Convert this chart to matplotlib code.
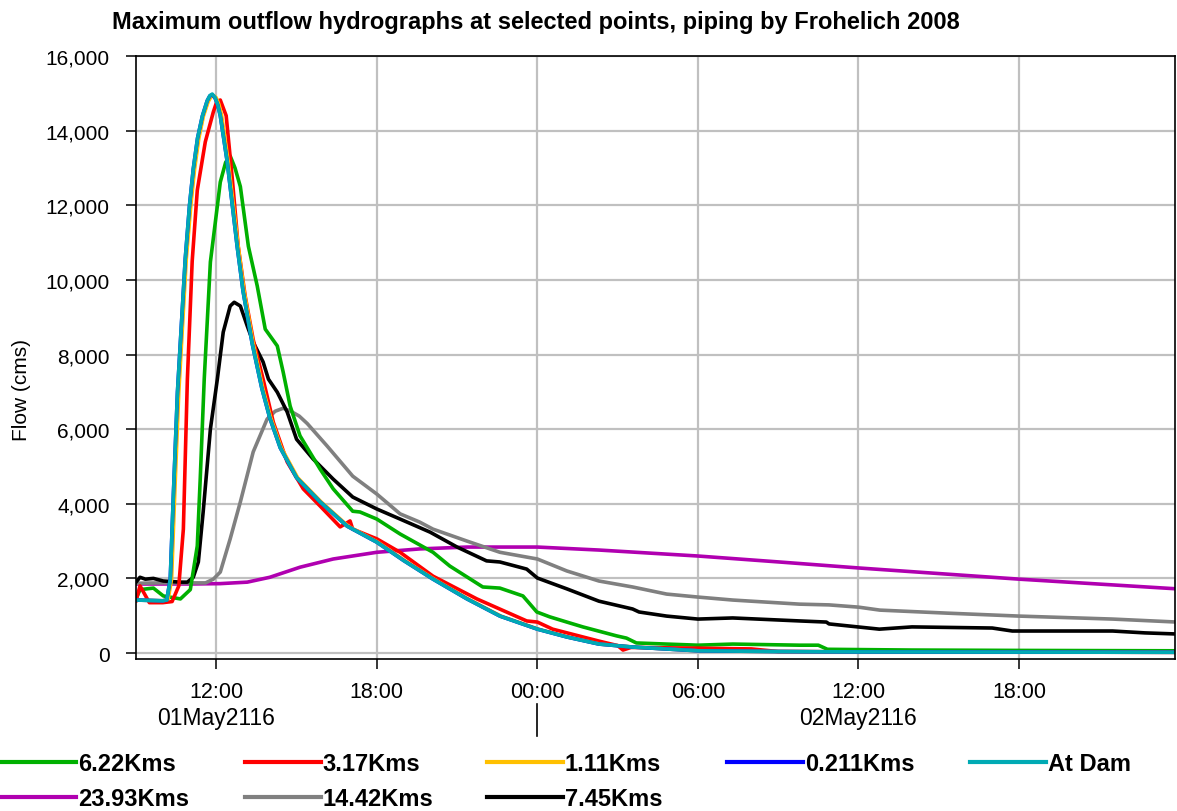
import matplotlib
matplotlib.use("Agg")
import matplotlib.pyplot as plt
from matplotlib.lines import Line2D
from matplotlib.ticker import FixedLocator, FuncFormatter
import matplotlib.transforms as mtransforms

plt.rcParams['font.family'] = ['Liberation Sans', 'DejaVu Sans']

# ============================================================
# Data (hours since 01May2116 00:00, flow in cms)
# ============================================================
green_h = [9.0, 9.15, 9.65, 10.02, 10.66, 11.03, 11.29, 11.4, 11.55, 11.78, 12.04, 12.15,
           12.35, 12.52, 12.7, 12.9, 13.2, 13.53, 13.83, 14.28, 14.5, 14.76, 15.13, 15.88,
           16.37, 17.1, 17.37, 18.0, 18.87, 20.1, 20.73, 21.96, 22.6, 23.46, 23.98, 24.46,
           25.1, 25.7, 26.96, 27.33, 27.7, 28.83, 30.0, 31.3, 33.8, 34.5, 34.84, 38.0,
           42.0, 47.9]
green_q = [1450, 1700, 1740, 1530, 1450, 1700, 2870, 4660, 7340, 10480, 11980, 12620,
           13150, 13320, 13000, 12500, 10900, 9840, 8680, 8230, 7530, 6620, 5820, 4930,
           4400, 3800, 3780, 3590, 3190, 2700, 2330, 1770, 1740, 1530, 1100, 970,
           830, 700, 460, 400, 270, 240, 210, 240, 210, 210, 100, 80,
           70, 60]

red_h = [9.0, 9.15, 9.5, 10.0, 10.35, 10.6, 10.77, 10.92, 11.1, 11.29, 11.59, 11.89, 12.02,
         12.15, 12.37, 12.6, 12.82, 13.08, 13.38, 13.75, 14.13, 14.65, 15.25, 15.88, 16.63,
         17.0, 17.1, 18.0, 18.87, 20.1, 21.74, 23.6, 24.0, 24.57, 26.3, 27.0, 27.2, 27.5,
         30.0, 32.0, 33.0, 36.0, 42.0, 47.9]
red_q = [1400, 1800, 1350, 1350, 1380, 1800, 3320, 7340, 10500, 12400, 13700, 14500, 14780,
         14820, 14400, 12700, 10900, 9570, 8400, 7340, 6190, 5120, 4400, 3940, 3380,
         3540, 3320, 3060, 2700, 2060, 1450, 860, 830, 640, 320, 200, 80, 150,
         130, 110, 40, 30, 25, 20]

orange_h = [9.0, 9.5, 10.0, 10.2, 10.33, 10.45, 10.6, 10.88, 11.05, 11.19, 11.35, 11.52, 11.7,
            11.8, 11.9, 12.0, 12.1, 12.2, 12.45, 12.82, 13.04, 13.38, 13.74, 14.04, 14.43,
            15.04, 15.92, 16.93, 18.04, 19.04, 20.14, 21.41, 22.64, 24.04, 25.14, 26.34,
            27.6, 30.0, 33.0, 36.0, 42.0, 47.9]
orange_q = [1420, 1410, 1400, 1440, 1980, 4300, 7000, 10560, 12000, 12970, 13800, 14390, 14780,
            14900, 14940, 14880, 14700, 14400, 13160, 10900, 9700, 8300, 7100, 6300, 5500,
            4700, 4050, 3400, 2970, 2480, 1980, 1450, 990, 640, 430, 240,
            160, 60, 40, 30, 25, 20]

blue_h = [9.0, 9.5, 10.0, 10.15, 10.28, 10.4, 10.55, 10.84, 11.0, 11.14, 11.3, 11.48, 11.66,
          11.76, 11.85, 11.95, 12.05, 12.15, 12.41, 12.78, 13.0, 13.34, 13.7, 14.0, 14.39,
          15.0, 15.88, 16.89, 18.0, 19.0, 20.1, 21.37, 22.6, 24.0, 25.1, 26.3, 27.56,
          30.0, 33.0, 36.0, 42.0, 47.9]
blue_q = [1420, 1410, 1400, 1420, 1980, 4300, 7000, 10560, 12000, 12970, 13800, 14390, 14800,
          14930, 14960, 14880, 14700, 14400, 13160, 10900, 9700, 8300, 7100, 6300, 5500,
          4700, 4050, 3400, 2970, 2480, 1980, 1450, 990, 640, 430, 240, 160,
          60, 40, 30, 25, 20]

dam_h = [9.0, 9.5, 10.0, 10.15, 10.28, 10.4, 10.55, 10.84, 11.0, 11.14, 11.3, 11.48, 11.66,
         11.76, 11.85, 11.95, 12.05, 12.15, 12.41, 12.78, 13.0, 13.34, 13.7, 14.0, 14.39,
         15.0, 15.88, 16.89, 18.0, 19.0, 20.1, 21.37, 22.6, 24.0, 25.1, 26.3, 27.56,
         30.0, 33.0, 36.0, 42.0, 47.9]
dam_q = [1420, 1410, 1400, 1420, 1980, 4300, 7000, 10560, 12000, 12970, 13800, 14390, 14800,
         14940, 14980, 14890, 14700, 14400, 13160, 10900, 9700, 8300, 7100, 6300, 5500,
         4700, 4050, 3400, 2970, 2480, 1980, 1450, 990, 640, 430, 240, 160,
         60, 40, 30, 25, 20]

purple_h = [9.0, 11.0, 12.15, 13.16, 14.0, 15.13, 16.37, 18.0, 19.6, 21.37, 24.0, 26.3,
            30.0, 33.04, 36.0, 42.0, 47.9]
purple_q = [1850, 1850, 1860, 1900, 2030, 2300, 2520, 2700, 2790, 2840, 2840, 2760,
            2600, 2440, 2280, 1980, 1720]

gray_h = [9.0, 10.0, 11.0, 11.6, 11.89, 12.15, 12.52, 12.9, 13.38, 13.9, 14.2, 14.5, 14.76,
          15.1, 15.4, 16.14, 17.1, 18.0, 18.87, 19.6, 20.1, 21.37, 22.6, 24.0, 25.1, 26.3,
          27.56, 28.83, 30.0, 31.3, 33.8, 34.9, 36.0, 36.8, 39.28, 42.0, 45.5, 47.9]
gray_q = [1870, 1880, 1880, 1880, 1980, 2170, 3060, 4050, 5390, 6270, 6480, 6560, 6490,
          6350, 6150, 5550, 4740, 4260, 3730, 3510, 3320, 3000, 2700, 2520, 2200, 1930,
          1770, 1580, 1500, 1420, 1310, 1290, 1230, 1150, 1070, 990, 910, 830]

black_h = [9.0, 9.15, 9.35, 9.65, 10.02, 10.66, 10.92, 11.14, 11.33, 11.51, 11.78, 12.04,
           12.26, 12.52, 12.67, 12.9, 13.16, 13.38, 13.75, 13.95, 14.28, 14.65, 15.0, 15.62,
           16.37, 17.1, 18.0, 18.87, 19.99, 21.0, 22.1, 22.6, 23.6, 24.0, 25.1, 26.3,
           27.56, 27.8, 28.83, 30.0, 31.3, 33.8, 34.8, 34.9, 36.78, 38.0, 41.0, 41.75,
           45.5, 46.7, 47.9]
black_q = [1900, 2030, 1980, 2000, 1930, 1900, 1900, 2030, 2440, 3780, 6000, 7340,
           8600, 9300, 9400, 9300, 8760, 8330, 7800, 7340, 6990, 6460, 5730, 5200,
           4660, 4180, 3860, 3590, 3240, 2840, 2470, 2440, 2250, 2010, 1720, 1390,
           1180, 1100, 990, 910, 940, 860, 830, 780, 640, 700, 670, 590,
           590, 540, 510]

x_ticks = [12, 18, 24, 30, 36, 42]
x_tick_labels = ["12:00", "18:00", "00:00", "06:00", "12:00", "18:00"]
day_centers = [12, 36]
day_labels = ["01May2116", "02May2116"]
day_break = 24
y_ticks = list(range(0, 16001, 2000))

# ============================================================
# Figure
# ============================================================
W, H = 1177, 812
fig = plt.figure(figsize=(W / 100, H / 100), dpi=100)
ax = fig.add_axes([136 / W, 1 - 660 / H, (1175 - 136) / W, (660 - 57) / H])

series = {
    "6.22Kms": (green_h, green_q, "#00b000"),
    "3.17Kms": (red_h, red_q, "#ff0000"),
    "1.11Kms": (orange_h, orange_q, "#ffc000"),
    "0.211Kms": (blue_h, blue_q, "#0000ff"),
    "At Dam": (dam_h, dam_q, "#00aab4"),
    "23.93Kms": (purple_h, purple_q, "#b000b0"),
    "14.42Kms": (gray_h, gray_q, "#808080"),
    "7.45Kms": (black_h, black_q, "#000000"),
}
draw_order = ["23.93Kms", "14.42Kms", "7.45Kms", "6.22Kms", "3.17Kms",
              "1.11Kms", "0.211Kms", "At Dam"]

for name in draw_order:
    h, q, c = series[name]
    ax.plot(h, q, color=c, lw=2.6, solid_joinstyle='round')

ax.set_xlim(9, 47.83)
ax.set_ylim(-160, 16000)
ax.xaxis.set_major_locator(FixedLocator(x_ticks))
ax.set_xticklabels(x_tick_labels)
ax.yaxis.set_major_locator(FixedLocator(y_ticks))
ax.yaxis.set_major_formatter(FuncFormatter(lambda v, p: f"{int(v):,}"))
ax.tick_params(axis='both', labelsize=15, width=1.1, color='black')
ax.tick_params(axis='x', length=7, pad=9, labelsize=15.5)
ax.tick_params(axis='y', length=7, pad=12)
ax.grid(True, color='#c0c0c0', lw=1.6)
ax.set_axisbelow(True)
for sp in ax.spines.values():
    sp.set_linewidth(1.2)
    sp.set_color('black')

# Day row under the time labels
trans = mtransforms.blended_transform_factory(ax.transData, ax.transAxes)
for xc, lbl in zip(day_centers, day_labels):
    ax.text(xc, (660 - 719) / 603, lbl, transform=trans, ha='center', va='center', fontsize=16.5)
ax.plot([day_break, day_break], [(660 - 705) / 603, (660 - 737) / 603], transform=trans,
        color='black', lw=1.2, clip_on=False)

fig.text(112 / W, 1 - 22 / H, "Maximum outflow hydrographs at selected points, piping by Frohelich 2008",
         ha='left', va='center', fontsize=17, fontweight='bold')
fig.text(22 / W, 1 - 390 / H, "Flow (cms)", rotation=90, ha='center', va='center', fontsize=15)

# Legend: one small legend per column
columns = [["6.22Kms", "23.93Kms"], ["3.17Kms", "14.42Kms"], ["1.11Kms", "7.45Kms"],
           ["0.211Kms"], ["At Dam"]]
col_x = [0, 245, 487, 727, 970]
for names, cx in zip(columns, col_x):
    handles = [Line2D([], [], color=series[n][2], lw=3) for n in names]
    fig.legend(handles, names, loc='upper left', bbox_to_anchor=(cx / W, 1 - 753 / H),
               frameon=False, prop={'size': 17, 'weight': 'bold'}, handlelength=3.2,
               handletextpad=0.1, borderpad=0, borderaxespad=0, labelspacing=0.5)

fig.savefig("out.png", dpi=100)
